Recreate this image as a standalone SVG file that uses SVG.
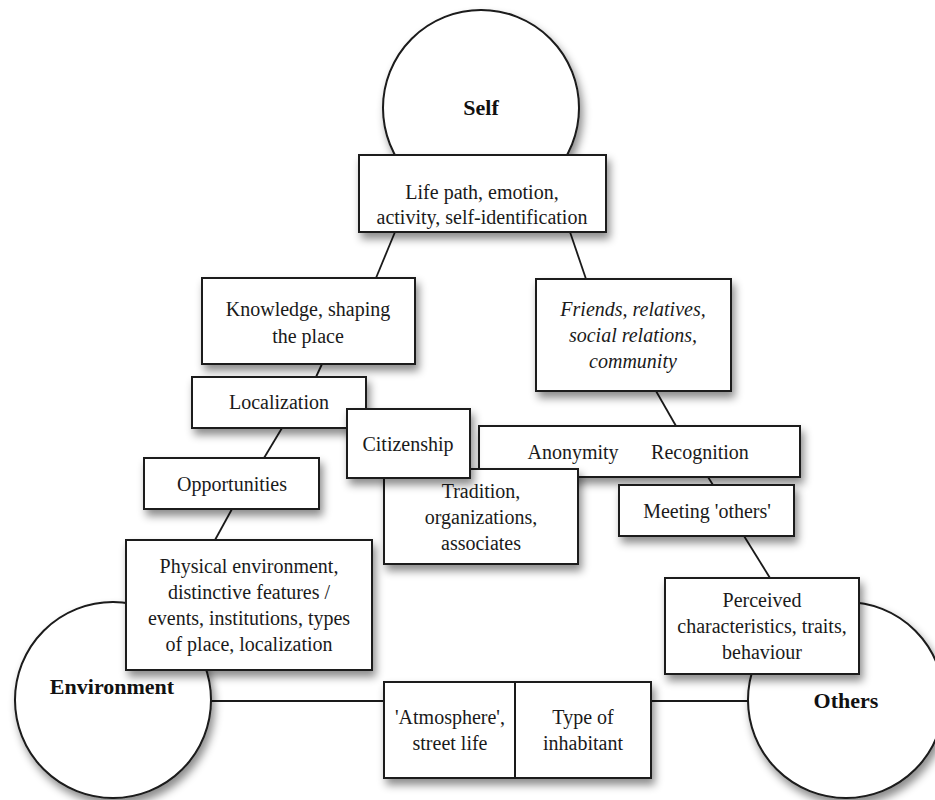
<svg xmlns="http://www.w3.org/2000/svg" width="935" height="800" viewBox="0 0 935 800">
<defs>
<filter id="sh" x="-20%" y="-20%" width="150%" height="160%">
<feDropShadow dx="3" dy="6" stdDeviation="4" flood-color="#000" flood-opacity="0.45"/>
</filter>
<style>
.b{fill:#fff;stroke:#1a1a1a;stroke-width:2;filter:url(#sh)}
.c{fill:#fff;stroke:#1a1a1a;stroke-width:2;filter:url(#sh)}
.t{font-family:"Liberation Serif","Times New Roman",serif;font-size:20px;fill:#1a1a1a;text-anchor:middle}
.i{font-style:italic}
.h{font-family:"Liberation Serif","Times New Roman",serif;font-size:22px;font-weight:bold;fill:#111;text-anchor:middle}
.l{stroke:#1a1a1a;stroke-width:1.8;fill:none}
</style>
</defs>
<rect width="935" height="800" fill="#fff"/>
<g id="connectors">
<line class="l" x1="395" y1="232" x2="376" y2="278"/>
<line class="l" x1="570" y1="232" x2="586" y2="279"/>
<line class="l" x1="322" y1="364" x2="316" y2="377"/>
<line class="l" x1="282" y1="428" x2="264" y2="458"/>
<line class="l" x1="232" y1="509" x2="215" y2="540"/>
<line class="l" x1="656" y1="391" x2="676" y2="426"/>
<line class="l" x1="708" y1="477" x2="713" y2="485"/>
<line class="l" x1="744" y1="536" x2="770" y2="578"/>
<line class="l" x1="200" y1="701" x2="384" y2="701"/>
<line class="l" x1="651" y1="701" x2="760" y2="701"/>
</g>
<g id="self"><circle class="c" cx="481" cy="108" r="98"/><text class="h" x="481" y="115">Self</text></g>
<g id="environment"><circle class="c" cx="113" cy="700" r="98"/><text class="h" x="112" y="694">Environment</text></g>
<g id="others"><circle class="c" cx="846" cy="700" r="98"/><text class="h" x="846" y="708">Others</text></g>
<g id="lifepath"><rect class="b" x="359" y="155" width="247" height="77"/><text class="t" x="482" y="199">Life path, emotion,</text><text class="t" x="482" y="224">activity, self-identification</text></g>
<g id="knowledge"><rect class="b" x="202" y="278" width="213" height="86"/><text class="t" x="308" y="316">Knowledge, shaping</text><text class="t" x="308" y="343">the place</text></g>
<g id="friends"><rect class="b" x="536" y="279" width="195" height="112"/><text class="t i" x="633" y="316">Friends, relatives,</text><text class="t i" x="633" y="342">social relations,</text><text class="t i" x="633" y="368">community</text></g>
<g id="localization"><rect class="b" x="192" y="377" width="174" height="51"/><text class="t" x="279" y="409">Localization</text></g>
<g id="anonymity"><rect class="b" x="479" y="426" width="321" height="51"/><text class="t" x="573" y="459">Anonymity</text><text class="t" x="700" y="459">Recognition</text></g>
<g id="tradition"><rect class="b" x="384" y="469" width="194" height="95"/><text class="t" x="481" y="498">Tradition,</text><text class="t" x="481" y="524">organizations,</text><text class="t" x="481" y="550">associates</text></g>
<g id="citizenship"><rect class="b" x="347" y="409" width="123" height="69"/><text class="t" x="408" y="451">Citizenship</text></g>
<g id="meeting"><rect class="b" x="619" y="485" width="175" height="51"/><text class="t" x="707" y="518">Meeting 'others'</text></g>
<g id="opportunities"><rect class="b" x="144" y="458" width="175" height="51"/><text class="t" x="232" y="491">Opportunities</text></g>
<g id="physical"><rect class="b" x="126" y="540" width="246" height="130"/><text class="t" x="249" y="573">Physical environment,</text><text class="t" x="249" y="599">distinctive features /</text><text class="t" x="249" y="625">events, institutions, types</text><text class="t" x="249" y="651">of place, localization</text></g>
<g id="perceived"><rect class="b" x="665" y="578" width="194" height="96"/><text class="t" x="762" y="607">Perceived</text><text class="t" x="762" y="633">characteristics, traits,</text><text class="t" x="762" y="659">behaviour</text></g>
<g id="atmosphere"><rect class="b" x="384" y="682" width="267" height="96"/><line class="l" x1="515" y1="682" x2="515" y2="778" style="stroke-width:2"/><text class="t" x="450" y="724">'Atmosphere',</text><text class="t" x="450" y="750">street life</text><text class="t" x="583" y="724">Type of</text><text class="t" x="583" y="750">inhabitant</text></g>
</svg>
